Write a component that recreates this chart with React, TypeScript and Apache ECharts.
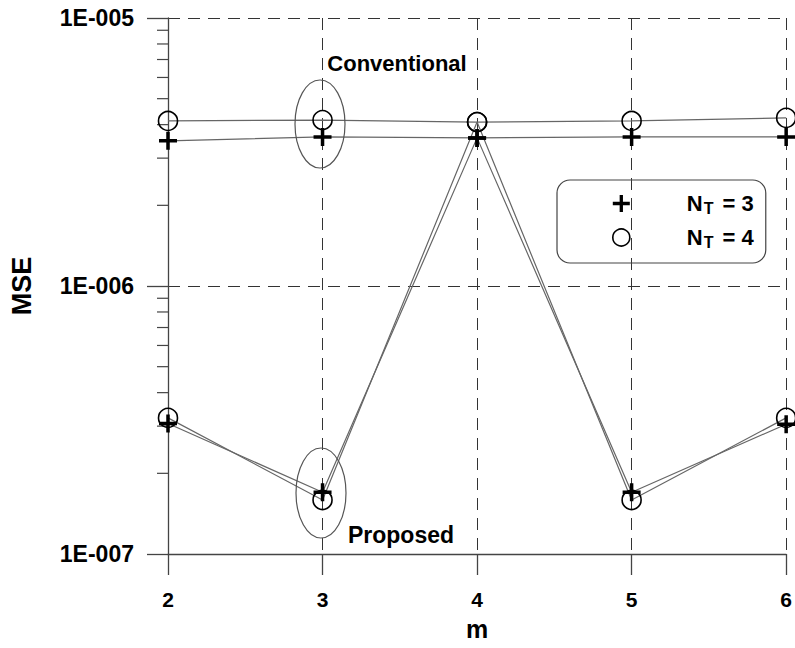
import React, { useEffect, useRef } from "react";
import * as echarts from "echarts";

const mValues = [2, 3, 4, 5, 6];
const convNT3 = [3.48e-6, 3.6e-6, 3.57e-6, 3.6e-6, 3.6e-6];
const convNT4 = [4.13e-6, 4.16e-6, 4.09e-6, 4.13e-6, 4.24e-6];
const propNT3 = [3.07e-7, 1.7e-7, 3.57e-6, 1.7e-7, 3.05e-7];
const propNT4 = [3.22e-7, 1.59e-7, 4.09e-6, 1.59e-7, 3.22e-7];
const minorTickValues = [
  2e-7, 3e-7, 4e-7, 5e-7, 6e-7, 7e-7, 8e-7, 9e-7,
  2e-6, 3e-6, 4e-6, 5e-6, 6e-6, 7e-6, 8e-6, 9e-6,
];
const yTickLabels: Record<string, string> = {
  "-7": "1E-007",
  "-6": "1E-006",
  "-5": "1E-005",
};

const FONT = "'Liberation Sans', Arial, sans-serif";
const NARROW = "'Liberation Sans Narrow', 'Liberation Sans', Arial, sans-serif";
const PLUS =
  "path://M7.25,0H10.75V7.25H18V10.75H10.75V18H7.25V10.75H0V7.25H7.25Z";

export default function App() {
  const ref = useRef<HTMLDivElement>(null);
  useEffect(() => {
    document.body.style.margin = "0";
    const chart = echarts.init(ref.current!, null, { renderer: "svg" });
    const pairs = (ys: number[]) => mValues.map((m, i) => [m, ys[i]]);
    const plusSeries = (data: number[]) => ({
      type: "line",
      name: "NT3",
      data: pairs(data),
      symbol: PLUS,
      symbolSize: 18,
      itemStyle: { color: "#000", borderWidth: 0 },
      lineStyle: { color: "#666", width: 1.2 },
      z: 3,
    });
    const circSeries = (data: number[]) => ({
      type: "line",
      name: "NT4",
      data: pairs(data),
      symbol: "circle",
      symbolSize: 19,
      itemStyle: { color: "transparent", borderColor: "#000", borderWidth: 1.6 },
      lineStyle: { color: "#666", width: 1.2 },
      z: 3,
    });
    chart.setOption({
      animation: false,
      backgroundColor: "#fff",
      grid: { left: 166, right: 7, top: 18, bottom: 94 },
      xAxis: {
        type: "value",
        min: 2,
        max: 6,
        interval: 1,
        name: "m",
        nameLocation: "middle",
        nameGap: 62,
        nameTextStyle: { fontFamily: NARROW, fontWeight: "bold", fontSize: 25, color: "#000" },
        axisLine: { lineStyle: { color: "#444", width: 1.3 } },
        axisTick: { length: 21, lineStyle: { color: "#444", width: 1.3 } },
        axisLabel: { margin: 35, fontFamily: NARROW, fontWeight: "bold", fontSize: 21, color: "#000" },
        splitLine: { show: true, lineStyle: { color: "#333", type: [12, 8], width: 1 } },
      },
      yAxis: {
        type: "log",
        logBase: 10,
        min: 1e-7,
        max: 1e-5,
        name: "MSE",
        nameLocation: "middle",
        nameGap: 133,
        nameRotate: 90,
        nameTextStyle: { fontFamily: FONT, fontWeight: "bold", fontSize: 27, color: "#000" },
        axisLine: { show: true, lineStyle: { color: "#444", width: 1.3 } },
        axisTick: { length: 21, lineStyle: { color: "#444", width: 1.3 } },
        axisLabel: {
          margin: 34,
          fontFamily: FONT,
          fontWeight: "bold",
          fontSize: 23,
          color: "#000",
          formatter: (v: number) => yTickLabels[String(Math.round(Math.log10(v)))] ?? "",
        },
        splitLine: { show: true, lineStyle: { color: "#333", type: [12, 8], width: 1 } },
      },
      legend: {
        orient: "vertical",
        left: 557,
        top: 180,
        padding: [11, 12, 13, 55],
        itemGap: 9,
        itemWidth: 17,
        itemHeight: 17,
        borderColor: "#444",
        borderWidth: 1.2,
        borderRadius: 13,
        data: [
          { name: "NT3", icon: PLUS, itemStyle: { color: "#000", borderWidth: 0 } },
          {
            name: "NT4",
            icon: "circle",
            itemStyle: { color: "transparent", borderColor: "#000", borderWidth: 1.6 },
          },
        ],
        formatter: (name: string) =>
          `{sp|}{n|N}{s|T}{n| = ${name === "NT3" ? "3" : "4"}}`,
        textStyle: {
          rich: {
            sp: { width: 52 },
            n: { fontFamily: FONT, fontWeight: "bold", fontSize: 22, color: "#000", lineHeight: 22 },
            s: {
              fontFamily: FONT,
              fontWeight: "bold",
              fontSize: 16,
              color: "#000",
              lineHeight: 22,
              padding: [9, 3, 0, 1],
            },
          },
        },
      },
      graphic: [
        {
          type: "ellipse",
          shape: { cx: 320, cy: 124, rx: 25, ry: 44 },
          style: { fill: "none", stroke: "#555", lineWidth: 1.2 },
          z: 10,
        },
        {
          type: "ellipse",
          shape: { cx: 321, cy: 493, rx: 25, ry: 45 },
          style: { fill: "none", stroke: "#555", lineWidth: 1.2 },
          z: 10,
        },
        {
          type: "text",
          x: 397,
          y: 63,
          style: {
            text: "Conventional",
            fontFamily: FONT,
            fontWeight: "bold",
            fontSize: 22,
            fill: "#000",
            align: "center",
            verticalAlign: "middle",
          },
          z: 10,
        },
        {
          type: "text",
          x: 401,
          y: 535,
          style: {
            text: "Proposed",
            fontFamily: FONT,
            fontWeight: "bold",
            fontSize: 23,
            fill: "#000",
            align: "center",
            verticalAlign: "middle",
          },
          z: 10,
        },
      ],
      series: [
        plusSeries(convNT3),
        circSeries(convNT4),
        plusSeries(propNT3),
        circSeries(propNT4),
        {
          type: "custom",
          name: "minorTicks",
          silent: true,
          clip: false,
          data: minorTickValues.map((v) => [2, v]),
          renderItem: (_p: any, api: any) => {
            const pt = api.coord([api.value(0), api.value(1)]);
            return {
              type: "line",
              shape: { x1: pt[0] - 11, y1: pt[1], x2: pt[0], y2: pt[1] },
              style: { stroke: "#444", lineWidth: 1.2 },
            };
          },
        },
      ],
    });
    return () => chart.dispose();
  }, []);
  return <div ref={ref} style={{ width: 795, height: 648 }} />;
}
